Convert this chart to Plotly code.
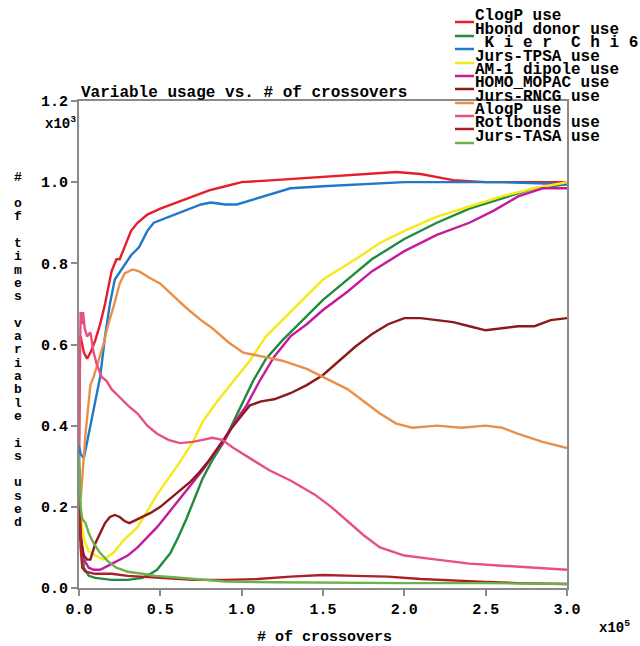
import plotly.graph_objects as go

# ---------------- data (x in units of 1e5 crossovers, y in units of 1e3 uses) ----------------
series_names = ["ClogP use", "Hbond donor use", "\u00a0K\u00a0i\u00a0e\u00a0r\u00a0\u00a0C\u00a0h\u00a0i\u00a06",
                "Jurs-TPSA use", "AM-1 dipole use", "HOMO_MOPAC use", "Jurs-RNCG use",
                "AlogP use", "Rotlbonds use", "Jurs-TASA use"]
series_colors = ["#e31e2d", "#1e8c3c", "#1f78c8", "#f7e818", "#c41a9c",
                 "#8c1a1a", "#e8904a", "#e8507e", "#b01e28", "#6cb24a"]

clogp_x = [0, 0.005, 0.01, 0.02, 0.03, 0.05, 0.07, 0.1, 0.13, 0.16, 0.2, 0.23, 0.25, 0.28, 0.32, 0.36,
           0.42, 0.5, 0.6, 0.7, 0.8, 0.9, 1.0, 1.2, 1.4, 1.6, 1.8, 1.95, 2.1, 2.3, 2.5, 2.7, 3.0]
clogp_y = [0.30, 0.60, 0.62, 0.60, 0.58, 0.565, 0.58, 0.61, 0.65, 0.70, 0.78, 0.81, 0.81, 0.84, 0.88, 0.90,
           0.92, 0.935, 0.95, 0.965, 0.98, 0.99, 1.0, 1.005, 1.01, 1.015, 1.02, 1.025, 1.02, 1.005, 1.0, 1.0, 1.0]

hbond_x = [0, 0.01, 0.03, 0.06, 0.1, 0.2, 0.3, 0.39, 0.44, 0.48, 0.52, 0.56, 0.61, 0.66, 0.71, 0.76, 0.82,
           0.89, 0.95, 1.01, 1.07, 1.15, 1.25, 1.4, 1.5, 1.65, 1.8, 2.0, 2.2, 2.4, 2.6, 2.8, 3.0]
hbond_y = [0.30, 0.15, 0.05, 0.03, 0.025, 0.02, 0.02, 0.025, 0.035, 0.045, 0.065, 0.085, 0.125, 0.17, 0.22,
           0.27, 0.315, 0.36, 0.41, 0.46, 0.51, 0.565, 0.61, 0.67, 0.71, 0.76, 0.81, 0.86, 0.9, 0.935, 0.96,
           0.985, 0.995]

kier_x = [0, 0.01, 0.03, 0.05, 0.08, 0.1, 0.13, 0.16, 0.19, 0.22, 0.27, 0.32, 0.37, 0.42, 0.46, 0.56, 0.65,
          0.75, 0.81, 0.9, 0.97, 1.05, 1.17, 1.3, 1.5, 1.8, 2.0, 2.3, 2.6, 3.0]
kier_y = [0.35, 0.33, 0.32, 0.36, 0.42, 0.46, 0.52, 0.62, 0.70, 0.76, 0.79, 0.82, 0.84, 0.88, 0.90, 0.915,
          0.93, 0.945, 0.95, 0.945, 0.945, 0.955, 0.97, 0.985, 0.99, 0.995, 1.0, 1.0, 1.0, 0.995]

tpsa_x = [0, 0.01, 0.03, 0.06, 0.1, 0.15, 0.21, 0.28, 0.36, 0.42, 0.48, 0.55, 0.62, 0.7, 0.76, 0.85, 0.95,
          1.05, 1.15, 1.25, 1.4, 1.5, 1.7, 1.85, 2.0, 2.2, 2.4, 2.6, 2.8, 3.0]
tpsa_y = [0.25, 0.18, 0.12, 0.09, 0.08, 0.07, 0.086, 0.12, 0.15, 0.19, 0.23, 0.27, 0.31, 0.36, 0.41, 0.46,
          0.51, 0.56, 0.62, 0.66, 0.72, 0.76, 0.81, 0.85, 0.88, 0.915, 0.94, 0.965, 0.985, 1.0]

am1_x = [0, 0.01, 0.03, 0.06, 0.09, 0.13, 0.18, 0.23, 0.3, 0.36, 0.42, 0.48, 0.55, 0.62, 0.69, 0.76, 0.83,
         0.89, 0.96, 1.03, 1.11, 1.2, 1.3, 1.4, 1.5, 1.65, 1.8, 2.0, 2.2, 2.4, 2.55, 2.7, 2.85, 3.0]
am1_y = [0.20, 0.12, 0.07, 0.05, 0.045, 0.045, 0.055, 0.065, 0.08, 0.10, 0.125, 0.15, 0.185, 0.22, 0.255,
         0.29, 0.33, 0.36, 0.41, 0.45, 0.51, 0.57, 0.62, 0.65, 0.685, 0.73, 0.78, 0.83, 0.87, 0.9, 0.93,
         0.965, 0.985, 0.985]

homo_x = [0, 0.01, 0.03, 0.05, 0.07, 0.1, 0.13, 0.16, 0.19, 0.22, 0.25, 0.28, 0.31, 0.36, 0.44, 0.5, 0.56,
          0.62, 0.68, 0.74, 0.8, 0.87, 0.93, 1.0, 1.05, 1.12, 1.2, 1.3, 1.4, 1.5, 1.6, 1.7, 1.8, 1.9, 2.0,
          2.1, 2.2, 2.3, 2.4, 2.5, 2.6, 2.7, 2.8, 2.9, 3.0]
homo_y = [0.25, 0.12, 0.08, 0.07, 0.07, 0.11, 0.135, 0.16, 0.175, 0.18, 0.175, 0.165, 0.16, 0.17, 0.185,
          0.20, 0.22, 0.24, 0.26, 0.285, 0.315, 0.355, 0.39, 0.425, 0.45, 0.46, 0.465, 0.48, 0.5, 0.525,
          0.56, 0.595, 0.625, 0.65, 0.665, 0.665, 0.66, 0.655, 0.645, 0.635, 0.64, 0.645, 0.645, 0.66, 0.665]

rncg_x = [0, 0.01, 0.02, 0.04, 0.07, 0.09, 0.12, 0.15, 0.18, 0.21, 0.25, 0.28, 0.33, 0.37, 0.43, 0.5, 0.58,
          0.66, 0.75, 0.82, 0.92, 1.01, 1.13, 1.25, 1.4, 1.5, 1.65, 1.75, 1.85, 1.95, 2.05, 2.2, 2.35, 2.5,
          2.6, 2.7, 2.85, 3.0]
rncg_y = [0.30, 0.22, 0.27, 0.38, 0.50, 0.52, 0.56, 0.60, 0.65, 0.69, 0.75, 0.775, 0.785, 0.78, 0.765, 0.75,
          0.72, 0.69, 0.66, 0.64, 0.605, 0.58, 0.57, 0.56, 0.54, 0.52, 0.49, 0.46, 0.43, 0.405, 0.395, 0.40,
          0.395, 0.40, 0.395, 0.38, 0.36, 0.345]

alogp_x = [0, 0.005, 0.01, 0.02, 0.025, 0.035, 0.05, 0.07, 0.09, 0.11, 0.14, 0.17, 0.2, 0.25, 0.3, 0.36,
           0.42, 0.48, 0.55, 0.62, 0.7, 0.76, 0.82, 0.88, 0.95, 1.05, 1.17, 1.3, 1.45, 1.55, 1.65, 1.75,
           1.85, 2.0, 2.2, 2.4, 2.6, 2.8, 3.0]
alogp_y = [0.35, 0.62, 0.68, 0.65, 0.68, 0.64, 0.62, 0.63, 0.58, 0.55, 0.52, 0.51, 0.49, 0.47, 0.45, 0.43,
           0.40, 0.38, 0.365, 0.357, 0.36, 0.365, 0.37, 0.365, 0.345, 0.32, 0.29, 0.265, 0.23, 0.20, 0.165,
           0.13, 0.10, 0.08, 0.07, 0.06, 0.055, 0.05, 0.045]

rot_x = [0, 0.01, 0.02, 0.04, 0.1, 0.2, 0.3, 0.5, 0.7, 0.9, 1.1, 1.3, 1.5, 1.7, 1.9, 2.1, 2.3, 2.5, 2.7, 3.0]
rot_y = [0.30, 0.10, 0.05, 0.04, 0.035, 0.035, 0.03, 0.025, 0.02, 0.02, 0.022, 0.028, 0.032, 0.03, 0.028,
         0.022, 0.018, 0.015, 0.012, 0.01]

tasa_x = [0, 0.01, 0.02, 0.04, 0.06, 0.09, 0.13, 0.18, 0.23, 0.3, 0.39, 0.47, 0.56, 0.66, 0.76, 0.9, 1.2,
          1.5, 2.0, 2.5, 3.0]
tasa_y = [0.33, 0.20, 0.17, 0.16, 0.135, 0.11, 0.086, 0.065, 0.05, 0.04, 0.035, 0.03, 0.027, 0.024, 0.02,
          0.016, 0.014, 0.013, 0.012, 0.012, 0.01]

series_x = [clogp_x, hbond_x, kier_x, tpsa_x, am1_x, homo_x, rncg_x, alogp_x, rot_x, tasa_x]
series_y = [clogp_y, hbond_y, kier_y, tpsa_y, am1_y, homo_y, rncg_y, alogp_y, rot_y, tasa_y]

x_ticks = [0, 0.5, 1.0, 1.5, 2.0, 2.5, 3.0]
y_ticks = [0, 0.2, 0.4, 0.6, 0.8, 1.0, 1.2]
title_text = "Variable usage vs. # of crossovers"
x_title = "# of crossovers"
y_title = "# of times variable is used"

# ---------------- layout helpers ----------------
W, H = 640, 646
L, R, T, B = 79, 567, 101, 588
FONT = "Liberation Mono"


def pxx(p):
    return (p - L) / (R - L)


def pxy(p):
    return (B - p) / (B - T)


def ann(text, x, y, xanchor, size, yanchor="middle"):
    return dict(text=text, x=pxx(x), y=pxy(y), xref="paper", yref="paper",
                xanchor=xanchor, yanchor=yanchor, showarrow=False,
                font=dict(family=FONT, size=size, color="black", weight="bold"))


fig = go.Figure()
for name, xs, ys, col in zip(series_names, series_x, series_y, series_colors):
    fig.add_trace(go.Scatter(x=xs, y=ys, mode="lines", name=name,
                             line=dict(color=col, width=2.4), showlegend=False))

annotations = []
shapes = []

annotations.append(ann(title_text, 79, 93, "left", 16))
annotations.append(ann("x10<sup>3</sup>", 78, 123, "right", 14))
annotations.append(ann("x10<sup>5</sup>", 632, 627, "right", 14))
annotations.append(ann(x_title, 324, 637, "center", 15))
for i, ch in enumerate(y_title):
    if ch == " ":
        continue
    annotations.append(ann(ch, 18, 177 + 13.3 * i, "center", 13))

leg_y = [16, 30, 43, 57, 70, 83, 97, 110, 123, 137]
for name, col, yc in zip(series_names, series_colors, leg_y):
    annotations.append(ann(name.replace(" ", "\u00a0"), 473, yc, "left", 16))
    shapes.append(dict(type="line", xref="paper", yref="paper", x0=pxx(455), x1=pxx(474),
                       y0=pxy(yc + 6), y1=pxy(yc + 6), line=dict(color=col, width=2.5)))

axis_common = dict(showgrid=False, zeroline=False, showline=True, linecolor="#8a8a8a", linewidth=2,
                   mirror=True, ticks="outside", ticklen=6, tickwidth=1.5, tickcolor="#8a8a8a",
                   tickfont=dict(family=FONT, size=15, color="black", weight="bold"))

fig.update_layout(
    width=W, height=H,
    margin=dict(l=L, r=W - R, t=T, b=H - B, pad=0),
    paper_bgcolor="white", plot_bgcolor="white",
    xaxis=dict(range=[0, 3.0], tickvals=x_ticks, tickformat=".1f", **axis_common),
    yaxis=dict(range=[0, 1.2], tickvals=y_ticks, tickformat=".1f", **axis_common),
    annotations=annotations, shapes=shapes, showlegend=False,
)

fig.write_html("out.html")
